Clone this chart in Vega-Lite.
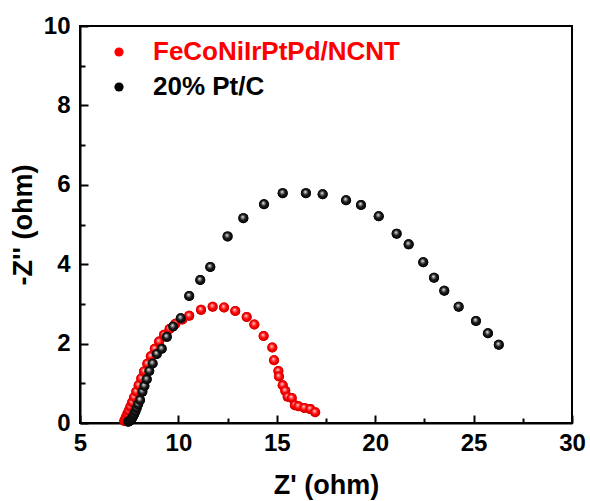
{
  "$schema": "https://vega.github.io/schema/vega-lite/v6.json",
  "width": 492,
  "height": 397,
  "autosize": {"type": "none"},
  "padding": {"left": 80, "top": 26, "right": 18, "bottom": 78},
  "background": "white",
  "config": {
    "view": {"stroke": "black", "strokeWidth": 2},
    "font": "Liberation Sans"
  },
  "data": {
    "values": [
      {"s": "FeCoNiIrPtPd/NCNT", "x": 7.25, "y": 0.05},
      {"s": "FeCoNiIrPtPd/NCNT", "x": 7.3, "y": 0.1},
      {"s": "FeCoNiIrPtPd/NCNT", "x": 7.35, "y": 0.16},
      {"s": "FeCoNiIrPtPd/NCNT", "x": 7.41, "y": 0.23},
      {"s": "FeCoNiIrPtPd/NCNT", "x": 7.48, "y": 0.31},
      {"s": "FeCoNiIrPtPd/NCNT", "x": 7.56, "y": 0.41},
      {"s": "FeCoNiIrPtPd/NCNT", "x": 7.65, "y": 0.52},
      {"s": "FeCoNiIrPtPd/NCNT", "x": 7.75, "y": 0.65},
      {"s": "FeCoNiIrPtPd/NCNT", "x": 7.86, "y": 0.79},
      {"s": "FeCoNiIrPtPd/NCNT", "x": 7.98, "y": 0.95},
      {"s": "FeCoNiIrPtPd/NCNT", "x": 8.11, "y": 1.12},
      {"s": "FeCoNiIrPtPd/NCNT", "x": 8.26, "y": 1.3},
      {"s": "FeCoNiIrPtPd/NCNT", "x": 8.42, "y": 1.49},
      {"s": "FeCoNiIrPtPd/NCNT", "x": 8.6, "y": 1.68},
      {"s": "FeCoNiIrPtPd/NCNT", "x": 8.8, "y": 1.87},
      {"s": "FeCoNiIrPtPd/NCNT", "x": 9.02, "y": 2.05},
      {"s": "FeCoNiIrPtPd/NCNT", "x": 9.27, "y": 2.22},
      {"s": "FeCoNiIrPtPd/NCNT", "x": 9.55, "y": 2.37},
      {"s": "FeCoNiIrPtPd/NCNT", "x": 9.85, "y": 2.5},
      {"s": "FeCoNiIrPtPd/NCNT", "x": 10.2, "y": 2.61},
      {"s": "FeCoNiIrPtPd/NCNT", "x": 10.55, "y": 2.7},
      {"s": "FeCoNiIrPtPd/NCNT", "x": 11.15, "y": 2.85},
      {"s": "FeCoNiIrPtPd/NCNT", "x": 11.74, "y": 2.93},
      {"s": "FeCoNiIrPtPd/NCNT", "x": 12.32, "y": 2.91},
      {"s": "FeCoNiIrPtPd/NCNT", "x": 12.89, "y": 2.82},
      {"s": "FeCoNiIrPtPd/NCNT", "x": 13.47, "y": 2.67},
      {"s": "FeCoNiIrPtPd/NCNT", "x": 13.86, "y": 2.48},
      {"s": "FeCoNiIrPtPd/NCNT", "x": 14.33, "y": 2.19},
      {"s": "FeCoNiIrPtPd/NCNT", "x": 14.77, "y": 1.9},
      {"s": "FeCoNiIrPtPd/NCNT", "x": 14.86, "y": 1.58},
      {"s": "FeCoNiIrPtPd/NCNT", "x": 15.08, "y": 1.31},
      {"s": "FeCoNiIrPtPd/NCNT", "x": 15.11, "y": 1.17},
      {"s": "FeCoNiIrPtPd/NCNT", "x": 15.3, "y": 0.95},
      {"s": "FeCoNiIrPtPd/NCNT", "x": 15.43, "y": 0.81},
      {"s": "FeCoNiIrPtPd/NCNT", "x": 15.55, "y": 0.66},
      {"s": "FeCoNiIrPtPd/NCNT", "x": 15.76, "y": 0.63},
      {"s": "FeCoNiIrPtPd/NCNT", "x": 15.92, "y": 0.45},
      {"s": "FeCoNiIrPtPd/NCNT", "x": 16.1, "y": 0.42},
      {"s": "FeCoNiIrPtPd/NCNT", "x": 16.4, "y": 0.38},
      {"s": "FeCoNiIrPtPd/NCNT", "x": 16.7, "y": 0.35},
      {"s": "FeCoNiIrPtPd/NCNT", "x": 16.95, "y": 0.27},
      {"s": "20% Pt/C", "x": 7.45, "y": 0.03},
      {"s": "20% Pt/C", "x": 7.52, "y": 0.05},
      {"s": "20% Pt/C", "x": 7.58, "y": 0.08},
      {"s": "20% Pt/C", "x": 7.64, "y": 0.12},
      {"s": "20% Pt/C", "x": 7.7, "y": 0.17},
      {"s": "20% Pt/C", "x": 7.76, "y": 0.23},
      {"s": "20% Pt/C", "x": 7.82, "y": 0.3},
      {"s": "20% Pt/C", "x": 7.88, "y": 0.38},
      {"s": "20% Pt/C", "x": 7.95, "y": 0.47},
      {"s": "20% Pt/C", "x": 8.05, "y": 0.58},
      {"s": "20% Pt/C", "x": 8.17, "y": 0.79},
      {"s": "20% Pt/C", "x": 8.27, "y": 0.93},
      {"s": "20% Pt/C", "x": 8.39, "y": 1.1},
      {"s": "20% Pt/C", "x": 8.52, "y": 1.31},
      {"s": "20% Pt/C", "x": 8.69, "y": 1.5},
      {"s": "20% Pt/C", "x": 8.9, "y": 1.74},
      {"s": "20% Pt/C", "x": 9.15, "y": 1.87},
      {"s": "20% Pt/C", "x": 9.41, "y": 2.17},
      {"s": "20% Pt/C", "x": 9.73, "y": 2.43},
      {"s": "20% Pt/C", "x": 10.12, "y": 2.64},
      {"s": "20% Pt/C", "x": 10.55, "y": 3.2},
      {"s": "20% Pt/C", "x": 11.11, "y": 3.6},
      {"s": "20% Pt/C", "x": 11.62, "y": 3.93},
      {"s": "20% Pt/C", "x": 12.5, "y": 4.7},
      {"s": "20% Pt/C", "x": 13.3, "y": 5.16},
      {"s": "20% Pt/C", "x": 14.35, "y": 5.51},
      {"s": "20% Pt/C", "x": 15.3, "y": 5.79},
      {"s": "20% Pt/C", "x": 16.48, "y": 5.79},
      {"s": "20% Pt/C", "x": 17.33, "y": 5.76},
      {"s": "20% Pt/C", "x": 18.52, "y": 5.61},
      {"s": "20% Pt/C", "x": 19.28, "y": 5.49},
      {"s": "20% Pt/C", "x": 20.18, "y": 5.21},
      {"s": "20% Pt/C", "x": 21.09, "y": 4.77},
      {"s": "20% Pt/C", "x": 21.7, "y": 4.5},
      {"s": "20% Pt/C", "x": 22.44, "y": 4.05},
      {"s": "20% Pt/C", "x": 22.99, "y": 3.66},
      {"s": "20% Pt/C", "x": 23.51, "y": 3.33},
      {"s": "20% Pt/C", "x": 24.24, "y": 2.93},
      {"s": "20% Pt/C", "x": 25.12, "y": 2.57},
      {"s": "20% Pt/C", "x": 25.73, "y": 2.26},
      {"s": "20% Pt/C", "x": 26.28, "y": 1.97}
    ]
  },
  "encoding": {
    "x": {
      "field": "x",
      "type": "quantitative",
      "scale": {"domain": [5, 30], "nice": false, "zero": false},
      "axis": {
        "title": "Z' (ohm)",
        "values": [5, 7.5, 10, 12.5, 15, 17.5, 20, 22.5, 25, 27.5, 30],
        "labelExpr": "datum.value % 5 === 0 ? datum.label : ''",
        "grid": false,
        "domainColor": "black",
        "domainWidth": 2,
        "tickColor": "black",
        "tickWidth": 2,
        "tickSize": {"condition": {"test": "datum.value % 5 !== 0", "value": -5}, "value": -8},
        "labelPadding": 16,
        "labelFontSize": 24,
        "labelFontWeight": "bold",
        "labelColor": "black",
        "labelFlush": false,
        "labelOverlap": false,
        "titleFontSize": 27,
        "titleFontWeight": "bold",
        "titleColor": "black",
        "titlePadding": 14
      }
    },
    "y": {
      "field": "y",
      "type": "quantitative",
      "scale": {"domain": [0, 10], "nice": false},
      "axis": {
        "title": "-Z'' (ohm)",
        "values": [0, 1, 2, 3, 4, 5, 6, 7, 8, 9, 10],
        "labelExpr": "datum.value % 2 === 0 ? datum.label : ''",
        "grid": false,
        "domainColor": "black",
        "domainWidth": 2,
        "tickColor": "black",
        "tickWidth": 2,
        "tickSize": {"condition": {"test": "datum.value % 2 !== 0", "value": -5}, "value": -8},
        "labelPadding": 18,
        "labelFontSize": 24,
        "labelFontWeight": "bold",
        "labelColor": "black",
        "labelFlush": false,
        "labelOverlap": false,
        "titleFontSize": 27,
        "titleFontWeight": "bold",
        "titleColor": "black",
        "titlePadding": 6
      }
    }
  },
  "layer": [
    {
      "mark": {"type": "circle", "size": 100, "opacity": 1},
      "encoding": {
        "color": {
          "field": "s",
          "type": "nominal",
          "sort": ["FeCoNiIrPtPd/NCNT", "20% Pt/C"],
          "scale": {"domain": ["FeCoNiIrPtPd/NCNT", "20% Pt/C"], "range": ["#ff0000", "#000000"]},
          "legend": {
            "title": null,
            "orient": "none",
            "legendX": 26,
            "legendY": 13,
            "padding": 0,
            "symbolType": "circle",
            "symbolSize": 85,
            "symbolOpacity": 1,
            "labelFontSize": 26,
            "labelFontWeight": "bold",
            "labelOffset": 21,
            "rowPadding": 9,
            "labelLimit": 400,
            "encode": {
              "labels": {"update": {"fill": {"signal": "datum.value === '20% Pt/C' ? '#000000' : '#ff0000'"}}}
            }
          }
        }
      }
    },
    {
      "transform": [{"filter": "datum.s === 'FeCoNiIrPtPd/NCNT'"}],
      "mark": {
        "type": "circle",
        "size": 100,
        "opacity": 1,
        "fill": {
          "gradient": "radial",
          "x1": 0.42, "y1": 0.36, "r1": 0,
          "x2": 0.5, "y2": 0.5, "r2": 0.55,
          "stops": [
            {"offset": 0, "color": "#ffffff"},
            {"offset": 0.22, "color": "#ff7070"},
            {"offset": 0.55, "color": "#ff0000"},
            {"offset": 1, "color": "#c00000"}
          ]
        }
      }
    },
    {
      "transform": [{"filter": "datum.s === '20% Pt/C'"}],
      "mark": {
        "type": "circle",
        "size": 100,
        "opacity": 1,
        "fill": {
          "gradient": "radial",
          "x1": 0.42, "y1": 0.36, "r1": 0,
          "x2": 0.5, "y2": 0.5, "r2": 0.55,
          "stops": [
            {"offset": 0, "color": "#ffffff"},
            {"offset": 0.2, "color": "#9a9a9a"},
            {"offset": 0.5, "color": "#1a1a1a"},
            {"offset": 1, "color": "#000000"}
          ]
        }
      }
    }
  ]
}
